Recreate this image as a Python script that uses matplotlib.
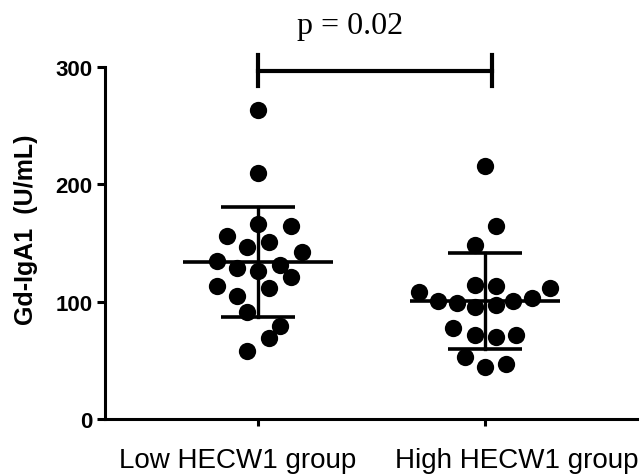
import matplotlib
matplotlib.use("Agg")
import matplotlib.pyplot as plt
import matplotlib.transforms as mtransforms
import numpy as np

# values (U/mL)
groups = ["Low HECW1 group", "High HECW1 group"]

low_values = [263.6, 209.4, 166.2, 164.8, 156.3, 151.1, 146.3, 142.1, 135.0, 128.7,
              131.5, 126.4, 120.7, 113.6, 111.6, 104.5, 91.5, 79.0, 68.8, 57.7]
low_offsets = [0.0, 0.0, 0.0, 0.144, -0.135, 0.048, -0.046, 0.192, -0.182, -0.091,
               0.097, 0.0, 0.144, -0.182, 0.048, -0.091, -0.046, 0.097, 0.048, -0.046]

high_values = [215.9, 164.2, 148.3, 114.2, 113.6, 108.5, 111.4, 100.8, 102.9, 98.9,
               100.3, 95.2, 97.4, 77.6, 71.9, 70.2, 71.9, 52.6, 44.6, 46.9]
high_offsets = [0.0, 0.047, -0.044, -0.044, 0.047, -0.289, 0.289, -0.206, 0.209, -0.122,
                0.125, -0.044, 0.047, -0.139, -0.044, 0.047, 0.139, -0.088, 0.0, 0.095]

# mean and SD bars as drawn
means = [133.5, 100.3]
sds = [46.9, 40.8]

p_text = "p = 0.02"
bracket_y = 297

fig = plt.figure(figsize=(6.44, 4.77), dpi=100)
ax = fig.add_axes([0.163, 0.1195, 0.826, 0.7379])

for i, (vals, offs) in enumerate([(low_values, low_offsets), (high_values, high_offsets)]):
    xs = i + np.array(offs)
    ax.scatter(xs, vals, s=155, color="black", zorder=3, clip_on=False, linewidths=0)
    m, sd = means[i], sds[i]
    ax.plot([i - 0.33, i + 0.33], [m, m], color="black", lw=2.6, zorder=4, solid_capstyle="butt")
    ax.plot([i, i], [m - sd, m + sd], color="black", lw=2.4, zorder=4)
    for y in (m - sd, m + sd):
        ax.plot([i - 0.163, i + 0.163], [y, y], color="black", lw=2.6, zorder=4,
                solid_capstyle="butt")

# significance bracket
ax.plot([0, 1.03], [bracket_y, bracket_y], color="black", lw=3, clip_on=False)
for bx in (0, 1.03):
    ax.plot([bx, bx], [bracket_y - 13, bracket_y + 13], color="black", lw=3, clip_on=False)
ax.text(0.405, 335, p_text, ha="center", va="center", fontsize=23,
        family="Liberation Serif", clip_on=False)

ax.set_xlim(-0.674, 1.67)
ax.set_ylim(0, 300)
ax.set_yticks([0, 100, 200, 300])
ax.set_xticks([0, 1])
ax.set_xticklabels([])
for lab in ax.get_yticklabels():
    lab.set_fontsize(16)
    lab.set_fontweight("bold")
    lab.set_family("Liberation Sans")

# category labels sit slightly apart from their ticks in the reference
label_shift = [-0.09, 0.14]
trans = mtransforms.blended_transform_factory(ax.transData, ax.transAxes)
for i, name in enumerate(groups):
    ax.text(i + label_shift[i], -0.135, name, transform=trans, ha="center", va="baseline",
            fontsize=20, family="Liberation Sans")

ax.set_ylabel("Gd-IgA1  (U/mL)", fontsize=18, fontweight="bold", family="Liberation Sans")
ax.yaxis.set_label_coords(-0.125, 0.54)

for side in ("top", "right"):
    ax.spines[side].set_visible(False)
for side in ("left", "bottom"):
    ax.spines[side].set_linewidth(2.2)
ax.tick_params(axis="y", length=6, width=2.2, pad=3)
ax.tick_params(axis="x", length=5, width=2.2)

fig.savefig("out.png", dpi=100)
